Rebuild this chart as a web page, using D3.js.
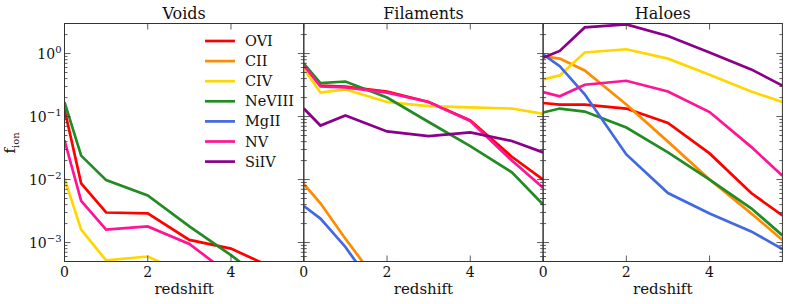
<!DOCTYPE html>
<html lang="en">
<head>
<meta charset="utf-8">
<title>Ion fractions vs redshift</title>
<script src="https://cdn.jsdelivr.net/npm/d3@7"></script>
<style>
  html, body { margin: 0; padding: 0; background: #fff; }
  svg text { font-family: "DejaVu Serif", serif; fill: #111; }
  .tick-label { font-size: 14px; }
  .axis-label { font-size: 15px; }
  .legend-label { font-size: 14.5px; }
  .title { font-size: 16px; }
</style>
</head>
<body>
<div id="chart"></div>
<script>
// redshift samples shared by every curve
const redshifts = [0, 0.4, 1, 2, 3, 4, 5, 5.75];

const panels = ["Voids", "Filaments", "Haloes"];
const ions = ["OVI", "CII", "CIV", "NeVIII", "MgII", "NV", "SiIV"];
const ionColors = ["#ff0000", "#ff8c00", "#ffd700", "#228b22", "#4169e1", "#ff1493", "#8b008b"];

// f_ion per panel, one row per ion (same order as ions)
const voids = [
  [0.13, 0.0087, 0.003, 0.0029, 0.0011, 0.0008, 0.0004, 0.0002],
  [0.00005, 0.00003, 0.00002, 0.00001, 0.00001, 0.00001, 0.00001, 0.00001],
  [0.0104, 0.0016, 0.00052, 0.0006, 0.0003, 0.0002, 0.0001, 0.0001],
  [0.17, 0.024, 0.0098, 0.0056, 0.0018, 0.00063, 0.0002, 0.0001],
  [0.00003, 0.00002, 0.00001, 0.00001, 0.00001, 0.00001, 0.00001, 0.00001],
  [0.042, 0.0046, 0.0016, 0.0018, 0.00095, 0.0003, 0.0001, 0.0001],
  [0.0001, 0.00005, 0.00003, 0.00002, 0.00001, 0.00001, 0.00001, 0.00001]
];
const filaments = [
  [0.68, 0.31, 0.30, 0.25, 0.17, 0.087, 0.023, 0.01],
  [0.0085, 0.0042, 0.00115, 0.00015, 0.00005, 0.00002, 0.00001, 0.00001],
  [0.58, 0.24, 0.27, 0.17, 0.146, 0.14, 0.134, 0.11],
  [0.69, 0.34, 0.36, 0.2, 0.082, 0.034, 0.013, 0.004],
  [0.0038, 0.0024, 0.00085, 0.0001, 0.00003, 0.00001, 0.00001, 0.00001],
  [0.65, 0.30, 0.29, 0.24, 0.17, 0.085, 0.02, 0.0074],
  [0.134, 0.072, 0.104, 0.058, 0.049, 0.056, 0.041, 0.027]
];
const haloes = [
  [0.164, 0.155, 0.155, 0.134, 0.079, 0.026, 0.0061, 0.0027],
  [0.9, 0.83, 0.54, 0.155, 0.04, 0.01, 0.0029, 0.0011],
  [0.39, 0.45, 1.04, 1.17, 0.83, 0.46, 0.25, 0.17],
  [0.116, 0.134, 0.12, 0.067, 0.027, 0.01, 0.0035, 0.0013],
  [0.97, 0.63, 0.226, 0.025, 0.0061, 0.0029, 0.0015, 0.00079],
  [0.245, 0.21, 0.32, 0.37, 0.25, 0.118, 0.033, 0.0115],
  [0.86, 1.1, 2.6, 2.9, 1.9, 1.04, 0.56, 0.31]
];
const panelData = [voids, filaments, haloes];

const yTicks = [1, 0.1, 0.01, 0.001];
const yTickExp = ["0", "\u22121", "\u22122", "\u22123"];
const xTicks = [0, 2, 4];

const width = 789, height = 304;
const plotLeft = 64.5, plotTop = 23.5, plotBottom = 261.5, panelW = 239.3;

const svg = d3.select("#chart").append("svg")
  .attr("width", width).attr("height", height);

const y = d3.scaleLog().domain([5e-4, 3]).range([plotBottom, plotTop]);

// minor log ticks 2..9 per decade inside the domain
const minor = [];
for (let e = -4; e <= 0; e++) {
  for (let m = 2; m <= 9; m++) {
    const v = m * Math.pow(10, e);
    if (v >= 5e-4 && v <= 3) minor.push(v);
  }
}

panels.forEach(function (name, p) {
  const x0 = plotLeft + p * panelW;
  const x = d3.scaleLinear().domain([0, 5.75]).range([x0, x0 + panelW]);
  const g = svg.append("g");

  g.append("clipPath").attr("id", "clip" + p)
    .append("rect").attr("x", x0).attr("y", plotTop).attr("width", panelW).attr("height", plotBottom - plotTop);

  const line = d3.line()
    .x(function (d, i) { return x(redshifts[i]); })
    .y(function (d) { return y(d); });

  g.append("g").attr("clip-path", "url(#clip" + p + ")")
    .selectAll("path")
    .data(panelData[p])
    .enter().append("path")
    .attr("d", line)
    .attr("fill", "none")
    .attr("stroke", function (d, i) { return ionColors[i]; })
    .attr("stroke-width", 2.7)
    .attr("stroke-linejoin", "miter");

  // ticks pointing inward on all four sides
  const tk = g.append("g").attr("stroke", "#333").attr("stroke-width", 0.8);
  yTicks.forEach(function (v) {
    tk.append("line").attr("x1", x0).attr("x2", x0 + 6).attr("y1", y(v)).attr("y2", y(v));
    tk.append("line").attr("x1", x0 + panelW).attr("x2", x0 + panelW - 6).attr("y1", y(v)).attr("y2", y(v));
  });
  minor.forEach(function (v) {
    tk.append("line").attr("x1", x0).attr("x2", x0 + 3).attr("y1", y(v)).attr("y2", y(v));
    tk.append("line").attr("x1", x0 + panelW).attr("x2", x0 + panelW - 3).attr("y1", y(v)).attr("y2", y(v));
  });
  xTicks.forEach(function (v) {
    tk.append("line").attr("x1", x(v)).attr("x2", x(v)).attr("y1", plotBottom).attr("y2", plotBottom - 6);
    tk.append("line").attr("x1", x(v)).attr("x2", x(v)).attr("y1", plotTop).attr("y2", plotTop + 6);
    g.append("text").attr("class", "tick-label")
      .attr("x", x(v)).attr("y", plotBottom + 15)
      .attr("text-anchor", "middle").text(v);
  });

  g.append("rect")
    .attr("x", x0).attr("y", plotTop).attr("width", panelW).attr("height", plotBottom - plotTop)
    .attr("fill", "none").attr("stroke", "#333").attr("stroke-width", 1);

  g.append("text").attr("class", "title")
    .attr("x", x0 + panelW / 2).attr("y", 19)
    .attr("text-anchor", "middle").text(name);

  g.append("text").attr("class", "axis-label")
    .attr("x", x0 + panelW / 2).attr("y", 294)
    .attr("text-anchor", "middle").text("redshift");
});

// y tick labels on the first panel
yTicks.forEach(function (v, i) {
  const t = svg.append("text").attr("class", "tick-label")
    .attr("x", plotLeft - 3).attr("y", y(v) + 5).attr("text-anchor", "end");
  t.append("tspan").text("10");
  t.append("tspan").attr("dy", -6).attr("font-size", 10).text(yTickExp[i]);
});

// y axis label f_ion
const yl = svg.append("text").attr("class", "axis-label")
  .attr("transform", "translate(15,143) rotate(-90)")
  .attr("text-anchor", "middle");
yl.append("tspan").text("f");
yl.append("tspan").attr("dy", 4).attr("font-size", 10).text("ion");

// legend
const legend = svg.append("g").attr("transform", "translate(205,41)");
ions.forEach(function (name, i) {
  const row = legend.append("g").attr("transform", "translate(0," + (i * 20.1) + ")");
  row.append("line").attr("x1", 0).attr("x2", 30).attr("y1", 0).attr("y2", 0)
    .attr("stroke", ionColors[i]).attr("stroke-width", 2.7);
  row.append("text").attr("class", "legend-label").attr("x", 40).attr("y", 5).text(name);
});
</script>
</body>
</html>
